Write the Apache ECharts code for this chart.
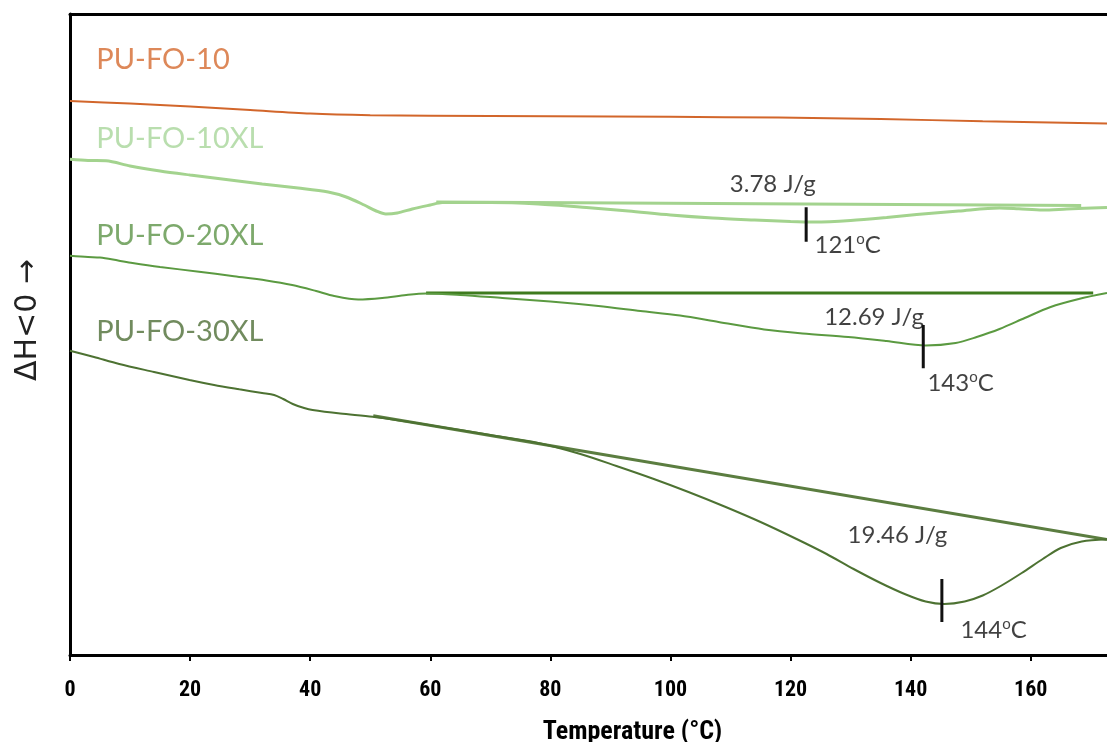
<!DOCTYPE html>
<html><head><meta charset="utf-8">
<script src="https://cdn.jsdelivr.net/npm/echarts@6/dist/echarts.min.js"></script>
<style>html,body{margin:0;padding:0;background:#fff}#c{width:1107px;height:742px}</style>
</head><body><div id="c"></div>
<script>
// Temperature (°C) vs heat flow (arbitrary units, curves offset vertically)
const xTickValues = [0, 20, 40, 60, 80, 100, 120, 140, 160];
const xMax = 172.7;
const yMax = 64.1;

const sampleNames = ['PU-FO-10', 'PU-FO-10XL', 'PU-FO-20XL', 'PU-FO-30XL'];

const curvePUFO10 = [[0,55.4],[10,55.15],[20,54.85],[30,54.5],[40,54.15],[50,53.98],[60,53.92],[80,53.88],[100,53.82],[118,53.74],[135,53.6],[152,53.37],[172.7,53.14]];

const curvePUFO10XL = [[0,49.57],[3,49.45],[6,49.42],[10,48.9],[15,48.4],[20,48.0],[26,47.55],[32,47.1],[38,46.7],[43,46.3],[46,45.8],[49,45.0],[51,44.4],[52.6,44.1],[54.5,44.2],[57,44.6],[60,45.0],[62,45.25],[70,45.25],[78,45.1],[86,44.75],[93,44.4],[100,44.0],[107,43.7],[114,43.5],[120,43.35],[124,43.3],[130,43.45],[136,43.75],[141,44.05],[148,44.4],[154.8,44.7],[158,44.62],[162,44.5],[166,44.6],[172.7,44.75]];

const curvePUFO20XL = [[0,39.93],[3,39.8],[5,39.75],[8,39.45],[10.4,39.2],[15,38.8],[21.5,38.33],[27,37.9],[32.7,37.45],[37,37.0],[41,36.4],[44,35.9],[48,35.55],[52,35.7],[56,36.0],[59.3,36.15],[65,36.0],[72,35.7],[80,35.35],[88,34.9],[95,34.4],[101.6,33.94],[108,33.3],[115.6,32.55],[122,32.15],[129.6,31.8],[136,31.4],[142.5,30.95],[147.5,31.2],[151,31.8],[154.8,32.6],[159,33.7],[163.2,34.78],[168,35.6],[172.7,36.19]];

const curvePUFO30XL = [[0,30.43],[4,29.8],[8.2,29.1],[14,28.3],[19.9,27.5],[24,27.0],[28.2,26.57],[32,26.2],[34,26.0],[35.5,25.6],[37.1,25.1],[39,24.7],[40.4,24.5],[45,24.15],[50.4,23.83],[56,23.35],[61.5,22.83],[70,22.0],[78,21.2],[85,20.1],[91,18.9],[97,17.65],[103,16.3],[109,14.85],[115,13.3],[121,11.6],[126,10.1],[130.5,8.6],[135,7.2],[139,6.1],[142.5,5.35],[145.6,5.1],[149,5.35],[152,5.95],[155,6.9],[158.5,8.2],[162,9.6],[165,10.7],[168.5,11.35],[172.7,11.57]];

// integration baselines
const baseline10XL = [[61,45.3],[168.4,44.95]];
const baseline20XL = [[59.3,36.2],[170.4,36.2]];
const baseline30XL = [[50.5,23.93],[172.7,11.55]];

// peak markers: [x, yTop, yBottom]
const peakMarks = [[122.6,44.77,41.33],[142.1,33.0,28.67],[145.2,7.6,3.3]];

// text annotations: [text, x, y]
const enthalpyTexts = [['3.78 J/g',109.9,47.1],['12.69 J/g',125.6,33.8],['19.46 J/g',129.5,12.0]];
const peakTempTexts = [['121',124.0,41.0],['143',142.8,27.2],['144',148.3,2.5]];
const sampleLabelPos = [[4.4,59.5],[4.4,51.6],[4.4,41.9],[4.4,32.3]];

const curveColors = ['#d2662b','#a3d38e','#5b9a41','#4d7232'];
const labelColors = ['#d46a30','#a8d69a','#5d9347','#4e6e36'];
const baselineColors = ['#a3d38e','#3e7b1e','#5b7d40'];
const curveWidths = [2, 3, 2, 2];

const chart = echarts.init(document.getElementById('c'), null, {renderer:'canvas'});
const curves = [curvePUFO10, curvePUFO10XL, curvePUFO20XL, curvePUFO30XL];
const baselines = [baseline10XL, baseline20XL, baseline30XL];

const series = [];
curves.forEach((d,i)=>{
  series.push({type:'line', name:sampleNames[i], data:d, smooth:0.3, symbol:'none',
    lineStyle:{color:curveColors[i], width:curveWidths[i]}, z:3});
});
baselines.forEach((d,i)=>{
  series.push({type:'line', data:d, symbol:'none', lineStyle:{color:baselineColors[i], width:3}, z:2});
});
peakMarks.forEach(p=>{
  series.push({type:'line', data:[[p[0],p[1]],[p[0],p[2]]], symbol:'none', lineStyle:{color:'#111', width:3}, z:5});
});
const textFont = 'Lato, "Open Sans", sans-serif';
series.push({type:'scatter', symbolSize:0.1, itemStyle:{color:'transparent'}, z:6,
  data: sampleNames.map((n,i)=>({value:sampleLabelPos[i], name:n,
    label:{color:labelColors[i]}})),
  label:{show:true, position:[0,0], align:'left', verticalAlign:'middle',
    formatter:p=>p.name, fontFamily:textFont, fontSize:29}});
series.push({type:'scatter', symbolSize:0.1, itemStyle:{color:'transparent'}, z:6,
  data: enthalpyTexts.map(t=>({value:[t[1],t[2]], name:t[0]})),
  label:{show:true, position:[0,0], align:'left', verticalAlign:'middle',
    formatter:p=>p.name, fontFamily:textFont, fontSize:24, color:'#111'}});
series.push({type:'scatter', symbolSize:0.1, itemStyle:{color:'transparent'}, z:6,
  data: peakTempTexts.map(t=>({value:[t[1],t[2]], name:t[0]})),
  label:{show:true, position:[0,0], align:'left', verticalAlign:'middle',
    formatter:p=>'{a|'+p.name+'}{b|o}{a|C}',
    rich:{a:{fontFamily:textFont, fontSize:24, color:'#111', lineHeight:26},
          b:{fontFamily:textFont, fontSize:15, color:'#111', verticalAlign:'top', lineHeight:26}}}});

const axisFont = '"Liberation Sans Narrow", "Roboto Condensed", "Liberation Sans", Arial, sans-serif';
chart.setOption({
  animation:false,
  backgroundColor:'#fff',
  grid:{left:70, right:0, top:14, bottom:87, containLabel:false, outerBoundsMode:'none'},
  xAxis:[{type:'value', min:0, max:xMax, interval:20, position:'bottom',
      axisLine:{show:true, onZero:false, lineStyle:{color:'#000', width:3}},
      axisTick:{show:true, length:6, lineStyle:{color:'#000', width:2}},
      splitLine:{show:false},
      axisLabel:{margin:24, showMaxLabel:false, color:'#000', fontWeight:'bold', fontSize:22, fontFamily:axisFont,
        formatter:v=> xTickValues.includes(v) ? String(v) : ''},
      name:'Temperature (°C)', nameLocation:'middle', nameGap:64,
      nameTextStyle:{color:'#000', fontWeight:'bold', fontSize:26, fontFamily:axisFont, padding:[0,0,0,88]}},
    {type:'value', min:0, max:xMax, position:'top',
      axisLine:{show:true, onZero:false, lineStyle:{color:'#000', width:3}},
      axisTick:{show:false}, axisLabel:{show:false}, splitLine:{show:false}}],
  yAxis:{type:'value', min:0, max:yMax,
    axisLine:{show:true, onZero:false, lineStyle:{color:'#000', width:3}},
    axisTick:{show:false}, axisLabel:{show:false}, splitLine:{show:false}},
  graphic:[{type:'text', x:28, y:320, rotation:Math.PI/2,
    style:{text:'ΔH<0 →', fontFamily:'"DejaVu Sans", sans-serif', fontSize:30, fill:'#222',
      align:'center', verticalAlign:'middle'}}],
  series
});
</script></body></html>
